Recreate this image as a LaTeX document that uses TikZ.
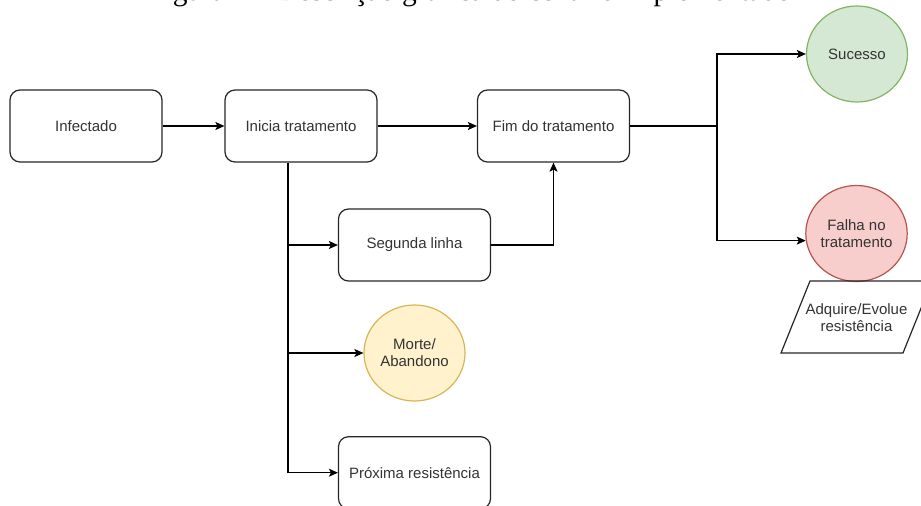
\documentclass[tikz,border=0pt]{standalone}
\usepackage{fontspec}
\setmainfont{Liberation Sans}
\newfontfamily\capfont{Liberation Serif}
\usetikzlibrary{arrows.meta,shapes.geometric}
\definecolor{txt}{HTML}{333333}
\definecolor{sucfill}{HTML}{D5E8D4}
\definecolor{sucdraw}{HTML}{82B366}
\definecolor{falfill}{HTML}{F8CECC}
\definecolor{faldraw}{HTML}{B85450}
\definecolor{morfill}{HTML}{FFF2CC}
\definecolor{mordraw}{HTML}{D6B656}
\tikzset{
  lbl/.style={font=\fontsize{15}{17}\selectfont, text=txt, align=center, inner sep=0pt},
  stepbox/.style={lbl, draw=black!85, line width=1.2pt, rounded corners=10pt,
    minimum width=152pt, minimum height=72pt},
  circnode/.style={lbl, ellipse, line width=1.2pt, minimum width=101pt, minimum height=96pt},
  arr/.style={line width=1.2pt, -{Stealth[length=9pt,width=8pt,inset=2pt]}},
  ln/.style={line width=1.2pt}
}
\begin{document}
\begin{tikzpicture}[x=1pt,y=-1pt]
\useasboundingbox (0,0) rectangle (921,506);
\clip (0,0) rectangle (921,506);
% caption (cut off at the top)
\node[anchor=base west, inner sep=0pt, font=\capfont\fontsize{29.5}{30}\selectfont] (cap) at (148,0.5)
  {Figura 4 – Descrição gráfica do cenário implementado};
% boxes
\node[stepbox] (inf) at (86,126) {Infectado};
\node[stepbox] (ini) at (301,126) {Inicia tratamento};
\node[stepbox] (fim) at (553.5,126) {Fim do tratamento};
\node[stepbox] (seg) at (414.5,245) {Segunda linha};
\node[stepbox] (prox) at (414.5,472.7) {Próxima resistência};
% circles
\node[circnode, fill=sucfill, draw=sucdraw] (suc) at (857,54) {Sucesso};
\node[circnode, fill=falfill, draw=faldraw] (fal) at (856.5,233.5) {Falha no\\tratamento};
\node[circnode, fill=morfill, draw=mordraw] (mor) at (414.5,353) {Morte/\\Abandono};
% parallelogram
\draw[line width=1.2pt, draw=black!85] (810,281) -- (932,281) -- (903,353) -- (781,353) -- cycle;
\node[lbl] (adq) at (856.5,317.5) {Adquire/Evolue\\resistência};
% connectors
\coordinate (jr) at (717,126);
\coordinate (jb) at (288,472.7);
\draw[arr] (inf) -- (ini);
\draw[arr] (ini) -- (fim);
\draw[ln] (fim.east) -- (jr);
\draw[arr] (jr) |- (suc.west);
\draw[arr] (jr) |- (fal.188.5);
\draw[arr] (ini.south -| jb) -- (jb) -- (prox.west);
\draw[arr] (seg.west -| jb) -- (seg.west);
\draw[arr] (mor.west -| jb) -- (mor.west);
\draw[arr] (seg.east) -| (fim.south);
\end{tikzpicture}
\end{document}
